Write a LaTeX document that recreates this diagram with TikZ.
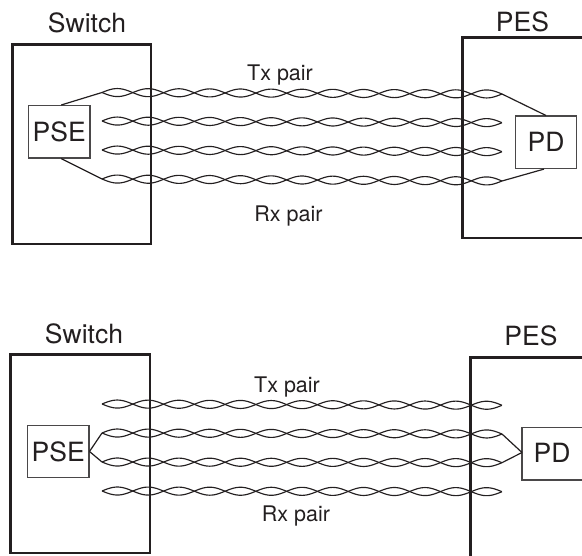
\documentclass[tikz,border=0pt]{standalone}
\usepackage{fontspec}
\setmainfont{TeX Gyre Heros}
\definecolor{ink}{HTML}{231F20}
\definecolor{thinbox}{HTML}{4A4849}
\newcommand{\wirepair}[4]{%
  \draw[strand] plot[domain=0:1,samples=261] ({#1+\x*(#3-#1)},{#2+\x*(#4-#2)+4*sin(\x*13*180)});
  \draw[strand] plot[domain=0:1,samples=261] ({#1+\x*(#3-#1)},{#2+\x*(#4-#2)-4*sin(\x*13*180)});
}
\tikzset{
  big/.style={font=\fontsize{26.5}{28}\selectfont,text=ink,inner sep=0pt},
  small/.style={font=\fontsize{21.5}{24}\selectfont,text=ink,inner sep=0pt},
  enclosure/.style={draw=ink,line width=2.6pt},
  unitbox/.style={draw=thinbox,line width=1.1pt,fill=white,inner sep=0pt,font=\fontsize{26.5}{28}\selectfont,text=ink},
  strand/.style={draw=ink,line width=1.15pt},
  link/.style={draw=ink,line width=1.2pt}
}
\begin{document}
\begin{tikzpicture}[x=1pt,y=-1pt]
\useasboundingbox (0,0) rectangle (582,556);
% --- top diagram ---
\draw[enclosure] (12.5,44.5) rectangle (151,244);
\draw[enclosure] (590,37.5) -- (462.5,37.5) -- (462.5,238) -- (590,238);
\node[big] (swA) at (87,23) {Switch};
\node[big] (pesA) at (522.5,21.5) {PES};
\node[small] (txA) at (280,75) {Tx pair};
\node[small] (rxA) at (288.5,216.5) {Rx pair};
\wirepair{102}{92.5}{502}{94}
\wirepair{102}{121}{502}{122.7}
\wirepair{102}{150}{502}{151.7}
\wirepair{102}{179}{502}{181}
\node[unitbox,minimum width=61.5pt,minimum height=52.5pt] (pseA) at (59.2,131.8) {PSE};
\node[unitbox,minimum width=61.5pt,minimum height=52.5pt] (pdA) at (546,142.3) {PD};
\coordinate (a1) at (102,92.5);
\coordinate (a2) at (102,179);
\coordinate (a3) at (502,94);
\coordinate (a4) at (502,181);
\draw[link] ([xshift=2pt]pseA.north) -- (a1);
\draw[link] ([xshift=2pt]pseA.south) -- (a2);
\draw[link] (pdA.north) -- (a3);
\draw[link] ([xshift=-2pt]pdA.south) -- (a4);
% --- bottom diagram ---
\draw[enclosure] (10.5,354.3) rectangle (150,553);
\draw[enclosure] (590,357.5) -- (470.5,357.5) -- (470.5,560);
\node[big] (swB) at (84,334) {Switch};
\node[big] (pesB) at (531,335.5) {PES};
\node[small] (txB) at (287,387) {Tx pair};
\node[small] (rxB) at (296,516.5) {Rx pair};
\wirepair{102}{404}{502}{405.3}
\wirepair{102}{433}{502}{434}
\wirepair{102}{462}{502}{462.7}
\wirepair{102}{491}{502}{491.7}
\node[unitbox,minimum width=61.5pt,minimum height=52.5pt] (pseB) at (58.2,451.5) {PSE};
\draw[draw=thinbox,line width=1.1pt] (590,427.7) -- (522,427.7) -- (522,480) -- (590,480);
\node[big] (pdB) at (552,453) {PD};
\coordinate (pdBin) at (522,452.5);
\coordinate (b1) at (102,433);
\coordinate (b2) at (102,462);
\coordinate (b3) at (502,434);
\coordinate (b4) at (502,462.7);
\draw[link] (pseB.east) -- (b1);
\draw[link] (pseB.east) -- (b2);
\draw[link] (pdBin) -- (b3);
\draw[link] (pdBin) -- (b4);
\end{tikzpicture}
\end{document}
